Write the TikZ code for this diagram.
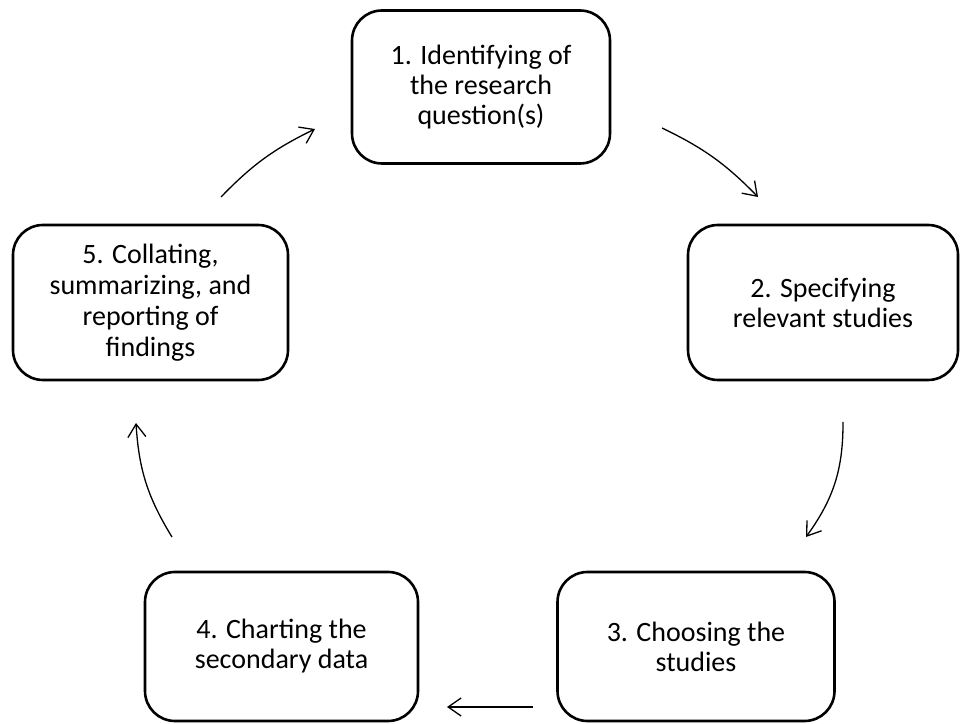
\documentclass[tikz,border=0pt]{standalone}
\usepackage{fontspec}
\setmainfont{Carlito}
\usetikzlibrary{arrows.meta}
\begin{document}
\begin{tikzpicture}[x=1pt,y=1pt,
  stage/.style={draw=black, line width=2.6pt, rounded corners=30pt, align=center,
    font=\fontsize{28}{30}\selectfont, inner sep=0pt},
  flow/.style={line width=1.3pt, -{Straight Barb[length=13pt,width=18pt,line width=1.3pt]}}]
\useasboundingbox (0,0) rectangle (963,723);
% y_tikz = 723 - y_image
\node[stage, minimum width=258pt, minimum height=153pt] (s1) at (481,636) {1. Identifying of\\the research\\question(s)};
\node[stage, minimum width=270pt, minimum height=155pt] (s2) at (823,420.5) {2. Specifying\\relevant studies};
\node[stage, minimum width=277pt, minimum height=149pt] (s3) at (696,76.5) {3. Choosing the\\studies};
\node[stage, minimum width=273pt, minimum height=149pt] (s4) at (281.5,76.5) {4. Charting the\\secondary data};
\node[stage, minimum width=275pt, minimum height=155pt, font=\fontsize{28}{31}\selectfont] (s5) at (150.5,420.5) {5. Collating,\\summarizing, and\\reporting of\\findings};
\coordinate (a1s) at (662,595);
\coordinate (a1e) at (758,526);
\coordinate (a2s) at (843,301);
\coordinate (a2e) at (806,186);
\coordinate (a3s) at (533,16);
\coordinate (a3e) at (447,16);
\coordinate (a4s) at (172,186);
\coordinate (a4e) at (136,300);
\coordinate (a5s) at (221,526);
\coordinate (a5e) at (315,594);
\draw[flow] (a1s) to[bend left=10] (a1e);
\draw[flow] (a2s) to[bend left=18] (a2e);
\draw[flow] (a3s) -- (a3e);
\draw[flow] (a4s) to[bend left=14] (a4e);
\draw[flow] (a5s) to[bend left=10] (a5e);
\end{tikzpicture}
\end{document}
